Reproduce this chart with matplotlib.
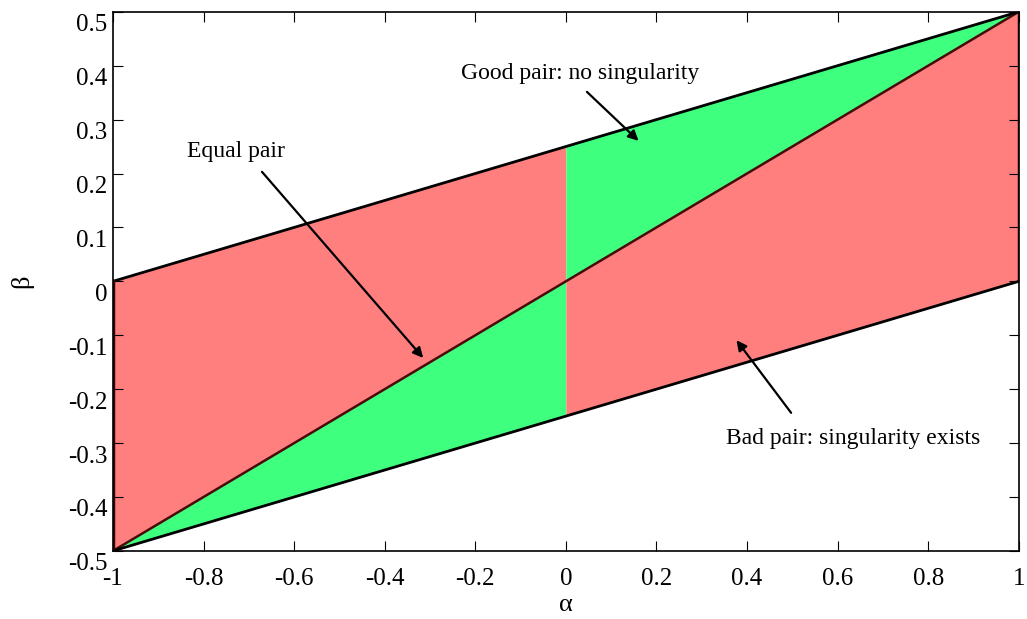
import matplotlib
matplotlib.use("Agg")
import matplotlib.pyplot as plt
import matplotlib.transforms as mtransforms
import numpy as np

plt.rcParams["font.family"] = ["Liberation Serif", "DejaVu Serif"]

# region boundaries (alpha values and the beta edges)
alpha_left = [-1.0, 0.0]
alpha_right = [0.0, 1.0]
alpha_pts = [-1.0, 0.0, 1.0]
top_edge = [0.0, 0.25, 0.5]        # beta at alpha = -1, 0, 1
diag_edge = [-0.5, 0.0, 0.5]
bottom_edge = [-0.5, -0.25, 0.0]

xticks = np.arange(-1, 1.01, 0.2)
yticks = np.arange(-0.5, 0.51, 0.1)
xtick_labels = ["-1", "-0.8", "-0.6", "-0.4", "-0.2", "0", "0.2", "0.4", "0.6", "0.8", "1"]
ytick_labels = ["-0.5", "-0.4", "-0.3", "-0.2", "-0.1", "0", "0.1", "0.2", "0.3", "0.4", "0.5"]

RED = "#ff7f7f"
GREEN = "#3fff7f"

fig = plt.figure(figsize=(10.27, 6.19), dpi=100)
ax = fig.add_axes([0.110, 0.110, 0.882, 0.871])

# left half: red above diagonal, green below
ax.fill_between(alpha_left, diag_edge[:2], top_edge[:2], color=RED, lw=0)
ax.fill_between(alpha_left, bottom_edge[:2], diag_edge[:2], color=GREEN, lw=0)
# right half: green above diagonal, red below
ax.fill_between(alpha_right, diag_edge[1:], top_edge[1:], color=GREEN, lw=0)
ax.fill_between(alpha_right, bottom_edge[1:], diag_edge[1:], color=RED, lw=0)

ax.plot(alpha_pts, diag_edge, color="#4a0a0a", lw=1.8)
ax.plot(alpha_pts, top_edge, color="black", lw=2)
ax.plot(alpha_pts, bottom_edge, color="black", lw=2)
ax.plot([-1, -1], [bottom_edge[0], top_edge[0]], color="#3a0505", lw=2.5)
ax.plot([1, 1], [bottom_edge[-1], top_edge[-1]], color="#3a0505", lw=2.5)

ax.set_xlim(-1, 1)
ax.set_ylim(-0.5, 0.5)
ax.set_xticks(xticks)
ax.set_yticks(yticks)
ax.set_xticklabels(xtick_labels)
ax.set_yticklabels(ytick_labels)
ax.tick_params(direction="in", top=True, right=True, length=7, labelsize=18)
ax.tick_params(axis="x", pad=12)
ax.tick_params(axis="y", pad=4)
for s in ax.spines.values():
    s.set_linewidth(1.2)

# y tick labels sit slightly below their ticks, as in the original export
shift = mtransforms.ScaledTranslation(0, -0.11, fig.dpi_scale_trans)
for lab in ax.get_yticklabels():
    lab.set_transform(lab.get_transform() + shift)

ax.set_xlabel("α", fontsize=19, labelpad=3)
ax.set_ylabel("β", fontsize=19, labelpad=25)

arrow = dict(arrowstyle="-|>", color="black", lw=1.6, mutation_scale=15)
ax.annotate("", xy=(0.165, 0.257), xytext=(0.042, 0.355), arrowprops=arrow)
ax.text(0.031, 0.385, "Good pair: no singularity", fontsize=17, ha="center", va="center")
ax.annotate("", xy=(-0.311, -0.146), xytext=(-0.675, 0.207), arrowprops=arrow)
ax.text(-0.728, 0.240, "Equal pair", fontsize=17, ha="center", va="center")
ax.annotate("", xy=(0.373, -0.105), xytext=(0.501, -0.248), arrowprops=arrow)
ax.text(0.634, -0.292, "Bad pair: singularity exists", fontsize=17, ha="center", va="center")

fig.savefig("out.png", dpi=100)
